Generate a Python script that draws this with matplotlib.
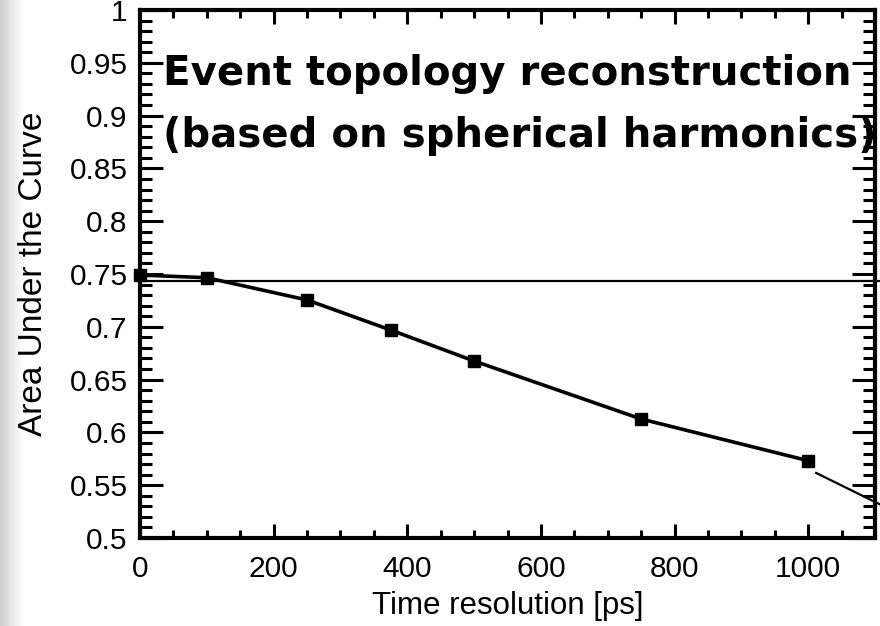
import numpy as np
import matplotlib
matplotlib.use("Agg")
import matplotlib.pyplot as plt
from matplotlib.ticker import MultipleLocator

# AUC versus detector time resolution
time_res_ps = [0, 100, 250, 375, 500, 750, 1000]
auc = [0.749, 0.7465, 0.7254, 0.697, 0.6676, 0.6127, 0.5732]

# reference level and pointer line overlaid on the plot (data coordinates)
ref_level = 0.7435
ref_x = [0, 1110]
pointer_x = [1012, 1110]
pointer_y = [0.5616, 0.531]

title_lines = ["Event topology reconstruction", "(based on spherical harmonics)"]

W, H, DPI = 880, 626, 100
fig = plt.figure(figsize=(W / DPI, H / DPI), dpi=DPI)
fig.patch.set_facecolor("white")

# soft grey slide edge on the left
edge = fig.add_axes([0, 0, 22 / W, 1], zorder=-5)
grad = np.linspace(0, 1, 64)[None, :]
edge.imshow(grad, aspect="auto", cmap="gray", vmin=-4.0, vmax=1, extent=[0, 1, 0, 1])
edge.axis("off")

ax = fig.add_axes([140 / W, (H - 538) / H, 735 / W, 528 / H])
ax.set_facecolor("white")

ax.plot(time_res_ps, auc, color="black", lw=2.6, marker="s", ms=8.5,
        mfc="black", mec="black", zorder=4, clip_on=False)
ax.plot(ref_x, [ref_level, ref_level], color="black", lw=1.6, clip_on=False, zorder=3)
ax.plot(pointer_x, pointer_y, color="black", lw=1.6, clip_on=False, zorder=3)

ax.set_xlim(0, 1100)
ax.set_ylim(0.5, 1.0)
ax.xaxis.set_major_locator(MultipleLocator(200))
ax.xaxis.set_minor_locator(MultipleLocator(50))
ax.yaxis.set_minor_locator(MultipleLocator(0.01))
ax.set_yticks(np.arange(0.5, 1.0001, 0.05))
ax.set_yticklabels(["0.5", "0.55", "0.6", "0.65", "0.7", "0.75", "0.8",
                    "0.85", "0.9", "0.95", "1"])

for s in ax.spines.values():
    s.set_linewidth(3.0)
    s.set_color("black")

lab_font = "Liberation Sans"
ax.tick_params(axis="both", which="both", direction="in", top=True, right=True,
               width=2.2, color="black")
ax.tick_params(axis="y", which="major", length=16.5, pad=9)
ax.tick_params(axis="y", which="minor", length=8.6)
ax.tick_params(axis="x", which="major", length=10, pad=12)
ax.tick_params(axis="x", which="minor", length=5.5)
for lbl in ax.get_xticklabels() + ax.get_yticklabels():
    lbl.set_fontfamily(lab_font)
    lbl.set_fontsize(21.5)

ax.set_xlabel("Time resolution [ps]", fontfamily=lab_font, fontsize=22.5, labelpad=6)
ax.set_ylabel("Area Under the Curve", fontfamily=lab_font, fontsize=24, labelpad=15)

# headline text in two lines
fig.text(163 / W, 1 - 85 / H, title_lines[0], fontfamily="DejaVu Sans",
         fontweight="heavy", fontsize=29, ha="left", va="baseline", zorder=6)
fig.text(163 / W, 1 - 147 / H, title_lines[1], fontfamily="DejaVu Sans",
         fontweight="heavy", fontsize=29, ha="left", va="baseline", zorder=6)

fig.savefig("out.png", dpi=DPI, facecolor="white")
